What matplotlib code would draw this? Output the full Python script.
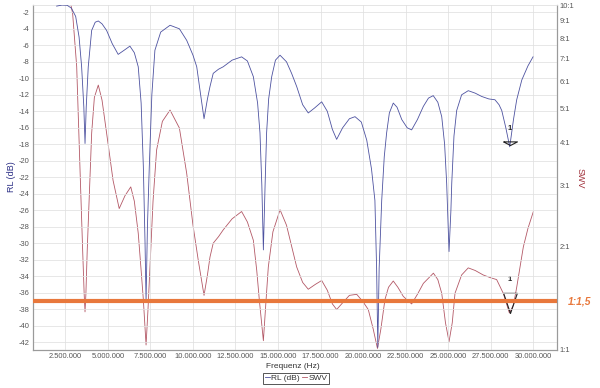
import matplotlib
matplotlib.use("Agg")
import matplotlib.pyplot as plt
from matplotlib.ticker import NullLocator

plt.rcParams['font.family'] = ['Liberation Sans', 'DejaVu Sans']

# ---- data (frequency in MHz) ----
rl_freq = [1.98, 2.3, 2.6, 2.85, 3.1, 3.3, 3.45, 3.58, 3.65, 3.72, 3.84, 4.04, 4.25, 4.43, 4.65,
           4.92, 5.25, 5.6, 5.95, 6.29, 6.55, 6.78, 6.95, 7.08, 7.18, 7.24, 7.32, 7.43, 7.58, 7.76,
           8.1, 8.65, 9.2, 9.63, 10.0, 10.22, 10.45, 10.65, 10.85, 11.0, 11.19, 11.5, 11.78, 12.3,
           12.86, 13.2, 13.55, 13.8, 13.94, 14.05, 14.14, 14.24, 14.33, 14.45, 14.63, 14.85, 15.12,
           15.5, 15.8, 16.1, 16.45, 16.78, 17.15, 17.57, 17.9, 18.2, 18.45, 18.8, 19.2, 19.53, 19.9,
           20.22, 20.5, 20.7, 20.8, 20.87, 20.95, 21.1, 21.25, 21.39, 21.55, 21.78, 22.0, 22.28,
           22.6, 22.86, 23.2, 23.55, 23.85, 24.13, 24.4, 24.63, 24.8, 24.92, 25.06, 25.17, 25.22,
           25.35, 25.51, 25.8, 26.19, 26.6, 26.98, 27.4, 27.76, 28.0, 28.16, 28.4, 28.63, 28.85,
           29.04, 29.34, 29.7, 30.0]
rl_db = [-1.25, -1.12, -1.15, -1.5, -2.5, -5.0, -8.6, -13.5, -17.9, -13.5, -8.6, -4.2, -3.2, -3.05, -3.4,
         -4.2, -5.8, -7.1, -6.6, -6.1, -6.9, -8.6, -13.0, -20.7, -30.0, -37.0, -28.0, -20.7, -12.0, -6.6,
         -4.4, -3.57, -4.0, -5.4, -7.2, -8.6, -12.0, -14.9, -12.5, -11.0, -9.4, -8.9, -8.6, -7.8,
         -7.4, -7.9, -9.8, -13.0, -16.6, -23.0, -30.8, -23.0, -16.6, -12.5, -9.8, -7.8, -7.2,
         -8.0, -9.4, -11.0, -13.2, -14.2, -13.6, -12.85, -14.0, -16.2, -17.4, -16.0, -14.9, -14.65, -15.3,
         -17.5, -21.0, -24.8, -33.0, -42.6, -33.0, -24.8, -19.5, -16.6, -14.2, -13.0, -13.5, -15.0,
         -16.0, -16.25, -15.0, -13.4, -12.4, -12.1, -12.9, -14.65, -18.0, -22.7, -31.0, -26.0, -22.7,
         -17.0, -13.9, -12.0, -11.5, -11.8, -12.2, -12.5, -12.6, -13.2, -13.9, -16.0, -18.3, -15.0,
         -12.6, -10.2, -8.5, -7.4]

swr_freq = [2.0, 2.6, 2.82, 2.92, 3.16, 3.35, 3.51, 3.6, 3.65, 3.7, 3.78, 4.04, 4.2, 4.43, 4.65, 4.92,
            5.3, 5.66, 6.0, 6.34, 6.55, 6.78, 6.95, 7.08, 7.24, 7.35, 7.47, 7.65, 7.86, 8.2, 8.65, 9.2,
            9.63, 10.0, 10.31, 10.65, 10.85, 11.0, 11.19, 11.5, 11.78, 12.3, 12.86, 13.2, 13.55, 13.75,
            13.9, 14.14, 14.3, 14.43, 14.7, 15.12, 15.5, 15.8, 16.1, 16.45, 16.78, 17.2, 17.57, 17.9,
            18.2, 18.45, 18.8, 19.2, 19.63, 20.0, 20.31, 20.6, 20.85, 21.05, 21.29, 21.5, 21.78, 22.05,
            22.37, 22.86, 23.2, 23.55, 24.14, 24.4, 24.63, 24.85, 25.06, 25.25, 25.41, 25.8, 26.19,
            26.6, 27.07, 27.5, 27.86, 28.25, 28.61, 28.85, 29.04, 29.43, 29.7, 30.02]
swr_val = [14.0, 14.0, 10.0, 9.46, 6.63, 3.40, 1.95, 1.45, 1.29, 1.45, 1.95, 4.25, 5.4, 5.86, 5.3, 4.25,
           3.1, 2.57, 2.8, 2.97, 2.7, 2.18, 1.7, 1.40, 1.034, 1.3, 1.74, 2.7, 3.80, 4.6, 4.96, 4.4,
           3.25, 2.3, 1.82, 1.44, 1.65, 1.86, 2.04, 2.13, 2.23, 2.4, 2.52, 2.35, 2.08, 1.7,
           1.40, 1.064, 1.4, 1.74, 2.2, 2.55, 2.3, 2.0, 1.74, 1.57, 1.50, 1.55, 1.59, 1.49,
           1.36, 1.31, 1.37, 1.44, 1.45, 1.38, 1.31, 1.15, 1.01, 1.15, 1.40, 1.52, 1.585, 1.52,
           1.43, 1.36, 1.45, 1.56, 1.67, 1.6, 1.46, 1.2, 1.057, 1.2, 1.46, 1.65, 1.73,
           1.7, 1.65, 1.62, 1.60, 1.46, 1.28, 1.35, 1.52, 1.99, 2.25, 2.52]

x_ticks = [2.5, 5.0, 7.5, 10.0, 12.5, 15.0, 17.5, 20.0, 22.5, 25.0, 27.5, 30.0]
x_tick_labels = ["2.500.000", "5.000.000", "7.500.000", "10.000.000", "12.500.000", "15.000.000",
                 "17.500.000", "20.000.000", "22.500.000", "25.000.000", "27.500.000", "30.000.000"]
rl_ticks = [-2, -4, -6, -8, -10, -12, -14, -16, -18, -20, -22, -24, -26, -28, -30, -32, -34, -36,
            -38, -40, -42]
swr_ticks = [1, 2, 3, 4, 5, 6, 7, 8, 9, 10]
swr_tick_labels = ["1:1", "2:1", "3:1", "4:1", "5:1", "6:1", "7:1", "8:1", "9:1", "10:1"]

marker_rl = (28.62, -18.06)
marker_swr = (28.62, 1.277)
ref_line_db = -37.0
ref_label = "1:1,5"

# ---- figure ----
fig = plt.figure(figsize=(6.0, 3.88), dpi=100)
ax = fig.add_axes([33/600, 1-350/388, (557-33)/600, (350-5)/388])
ax2 = ax.twinx()

blue = '#4d52a0'
red = '#b35866'
grid_c = '#e0e0e0'
tick_c = '#555555'

ax.set_xlim(0.59, 31.41)
ax.set_ylim(-42.93, -1.115)
ax.set_xticks(x_ticks)
ax.set_xticklabels(x_tick_labels)
ax.set_yticks(rl_ticks)
ax.set_yticklabels([str(t) for t in rl_ticks])
ax.grid(True, color=grid_c, linewidth=0.55)
ax.set_axisbelow(True)
ax.tick_params(axis='both', length=0, labelsize=5.4, colors=tick_c, pad=2.5)
ax.tick_params(axis='x', pad=2.5)

for s in ['left', 'right', 'bottom']:
    ax.spines[s].set_color('#9a9a9a')
    ax.spines[s].set_linewidth(0.8)
ax.spines['top'].set_color(grid_c)
ax.spines['top'].set_linewidth(0.6)
for s in ['left', 'right', 'bottom']:
    ax2.spines[s].set_color('#9a9a9a')
    ax2.spines[s].set_linewidth(0.8)
ax2.spines['top'].set_visible(False)

ax.plot(rl_freq, rl_db, color=blue, linewidth=0.6, label='RL (dB)', zorder=3)

ax2.set_yscale('log')
ax2.set_ylim(1, 10)
ax2.set_yticks(swr_ticks)
ax2.set_yticklabels(swr_tick_labels)
ax2.yaxis.set_minor_locator(NullLocator())
ax2.tick_params(axis='y', length=0, labelsize=5.4, colors=tick_c, pad=2)
ax2.plot(swr_freq, swr_val, color=red, linewidth=0.6, label='SWV', zorder=3)

# reference line
ax.axhline(ref_line_db, color='#e8783c', linewidth=3.0, solid_capstyle='round', zorder=5)
ax.annotate(ref_label, xy=(1.0, ref_line_db), xycoords=('axes fraction', 'data'),
            xytext=(8, 0), textcoords='offset points', ha='left', va='center',
            color='#e8783c', fontsize=7.4, fontweight='bold', fontstyle='italic',
            annotation_clip=False)
ax.set_zorder(ax2.get_zorder() + 1)
ax.patch.set_visible(False)

# markers
ax.plot([marker_rl[0]], [marker_rl[1]], marker=[(-1, 0.52), (1, 0.52), (0, 0), (-1, 0.52)],
        markersize=10, markerfacecolor='none', markeredgecolor='#222222', markeredgewidth=0.8,
        linestyle='none', zorder=6)
ax.annotate('1', xy=marker_rl, xytext=(0, 9), textcoords='offset points', ha='center',
            va='bottom', fontsize=5.5, fontweight='bold', color='#222222')
ax2.plot([marker_swr[0]], [marker_swr[1]], marker=[(-0.34, 1), (0.34, 1), (0, 0), (-0.34, 1)],
         markersize=29, markerfacecolor='none', markeredgecolor='#222222', markeredgewidth=0.8,
         linestyle='none', zorder=6)
ax2.annotate('1', xy=marker_swr, xytext=(0, 22), textcoords='offset points', ha='center',
             va='bottom', fontsize=5.5, fontweight='bold', color='#222222')

# axis labels
fig.text(12/600, 1-177/388, 'RL (dB)', rotation=90, ha='center', va='center',
         color='#2c2f86', fontsize=6.5)
fig.text(580/600, 1-178/388, 'SWV', rotation=270, ha='center', va='center',
         color='#a0303a', fontsize=6.5)
fig.text(293/600, 1-366/388, 'Frequenz (Hz)', ha='center', va='center', color='#333333',
         fontsize=6.0)

h1, l1 = ax.get_legend_handles_labels()
h2, l2 = ax2.get_legend_handles_labels()
leg = fig.legend(h1 + h2, l1 + l2, loc='center', bbox_to_anchor=(296/600, 1-378.5/388), ncol=2,
                 fontsize=6.0, handlelength=0.6, handletextpad=0.15, columnspacing=0.3,
                 borderpad=0.15, borderaxespad=0, fancybox=False, framealpha=1)
leg.get_frame().set_edgecolor('#555555')
leg.get_frame().set_linewidth(0.7)
for t in leg.get_texts():
    t.set_color('#333333')

fig.savefig('out.png', dpi=100)
